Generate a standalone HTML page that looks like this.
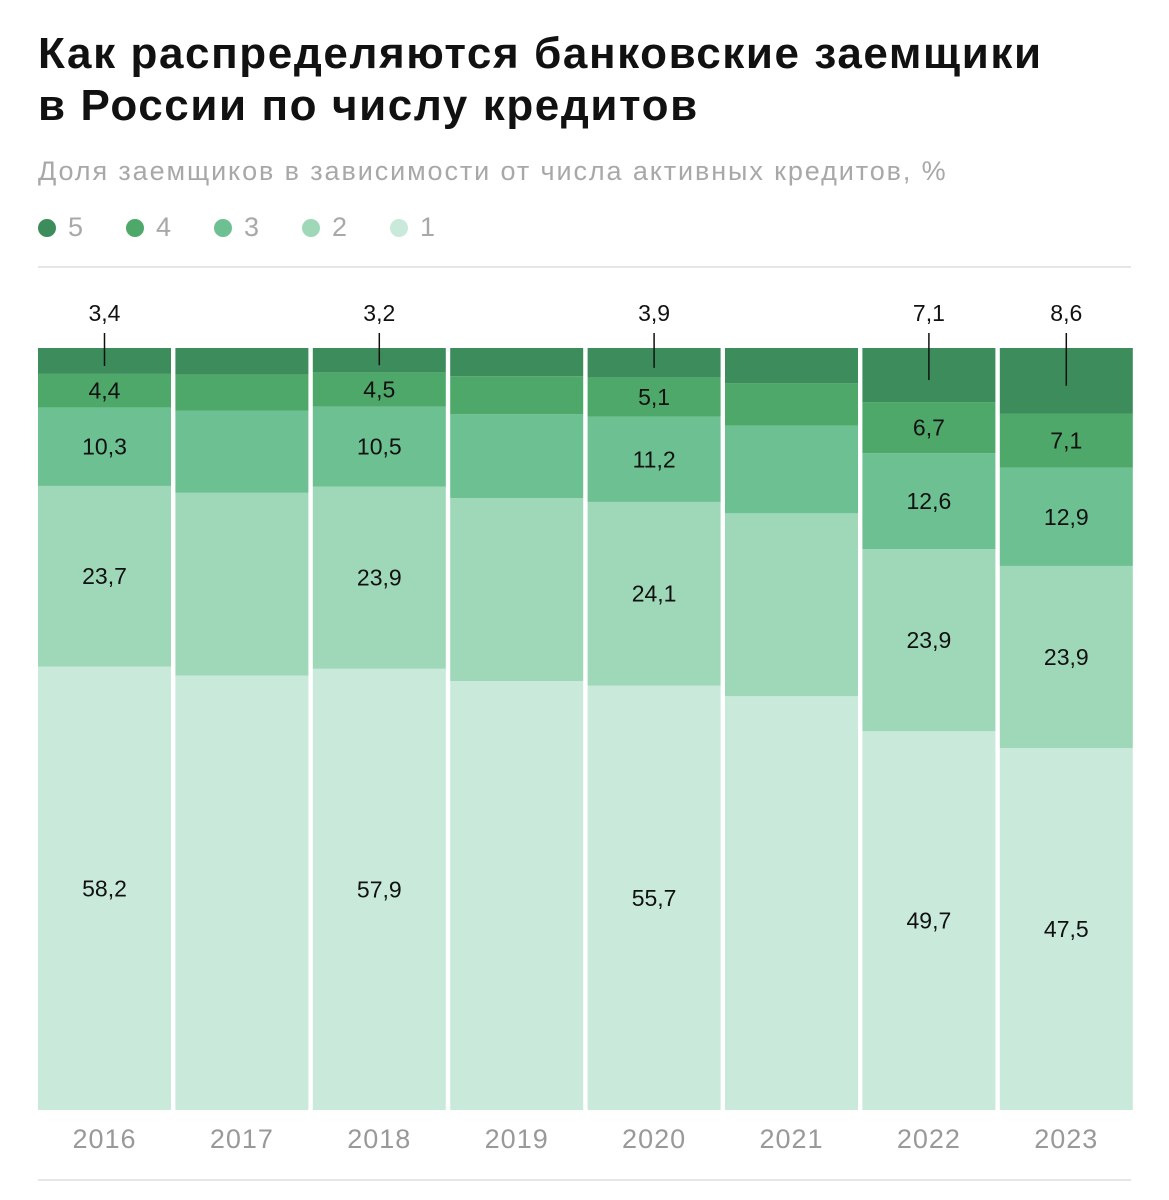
<!DOCTYPE html>
<html><head><meta charset="utf-8"><style>
body{margin:0;background:#fff;width:1169px;height:1200px;overflow:hidden;font-family:"Liberation Sans",sans-serif}
.t{position:absolute;left:38px;top:28px;font-size:44px;font-weight:bold;line-height:52px;color:#111;letter-spacing:1.6px;white-space:nowrap}
.s{position:absolute;left:38px;top:156px;font-size:27px;color:#a8a8a8;letter-spacing:1.9px;white-space:nowrap}
.lg{position:absolute;top:212px;font-size:27px;color:#a8a8a8;display:flex;align-items:center}
.lg i{display:inline-block;width:18px;height:18px;border-radius:50%;margin-right:12px}
</style></head><body>
<div class="t">Как распределяются банковские заемщики<br>в России по числу кредитов</div>
<div class="s">Доля заемщиков в зависимости от числа активных кредитов, %</div>
<div id="legend"></div>
<svg id="c" width="1169" height="1200" style="position:absolute;left:0;top:0"></svg>
<script>
const years=["2016","2017","2018","2019","2020","2021","2022","2023"];
const s1=[58.2,57.0,57.9,56.3,55.7,54.3,49.7,47.5];
const s2=[23.7,24.0,23.9,24.0,24.1,24.0,23.9,23.9];
const s3=[10.3,10.8,10.5,11.0,11.2,11.5,12.6,12.9];
const s4=[4.4,4.7,4.5,5.0,5.1,5.6,6.7,7.1];
const s5=[3.4,3.5,3.2,3.7,3.9,4.6,7.1,8.6];
const labeled=[true,false,true,false,true,false,true,true];
const series=[s1,s2,s3,s4,s5];
const colors=["#c9eadb","#9fd8b8","#6cc091","#4ea86a","#3d8c5c"];
const legendNames=["5","4","3","2","1"];
const legendX=[38,126,214,302,390];
const NS="http://www.w3.org/2000/svg";
const svg=document.getElementById('c');
const top0=348,bot=1110,x0=38,step=137.4,bw=133;
const y=v=>bot-(v/100)*(bot-top0);
function mk(t,a){const e=document.createElementNS(NS,t);for(const k in a)e.setAttribute(k,a[k]);svg.appendChild(e);return e;}
function tx(x,yy,str,size,fill,ls){const e=mk('text',{x:x,y:yy,'text-anchor':'middle','font-size':size,fill:fill,'font-family':'Liberation Sans, sans-serif','letter-spacing':ls||0});e.textContent=str;return e;}
const fmt=v=>String(v.toFixed(1)).replace('.',',');
const lr=mk('line',{x1:38,x2:1131,y1:267,y2:267,stroke:'#ddd','stroke-width':1.5});

const br=mk('line',{x1:38,x2:1131,y1:1180,y2:1180,stroke:'#ddd','stroke-width':1.5});

years.forEach((yr,i)=>{
  const x=x0+i*step, cx=x+bw/2;
  let cum=0;
  series.forEach((s,k)=>{
    const v=s[i], yb=y(cum), yt=(k===4)?top0:y(cum+v);
    const r=mk('rect',{x:x,y:yt,width:bw,height:yb-yt,fill:colors[k]});
    
    
    if(labeled[i]){
      if(k<4){const t=tx(cx,(yt+yb)/2+8,fmt(v),23,'#111');
        }
      else{const t=tx(cx,321,fmt(v),23,'#111');
        
        const l=mk('line',{x1:cx,x2:cx,y1:333,y2:Math.max(361,(yt+yb)/2+5),stroke:'#111','stroke-width':1.5});
        }
    }
    cum+=v;
  });
  const t=tx(cx,1148,yr,27,'#999',1);
  
});
const lg=document.getElementById('legend');
legendNames.forEach((n,k)=>{
  const d=document.createElement('div');d.className='lg';d.style.left=legendX[k]+'px';
  
  
  d.innerHTML='<i style="background:'+colors[4-k]+'"></i>'+n;lg.appendChild(d);
});
</script>
</body></html>
